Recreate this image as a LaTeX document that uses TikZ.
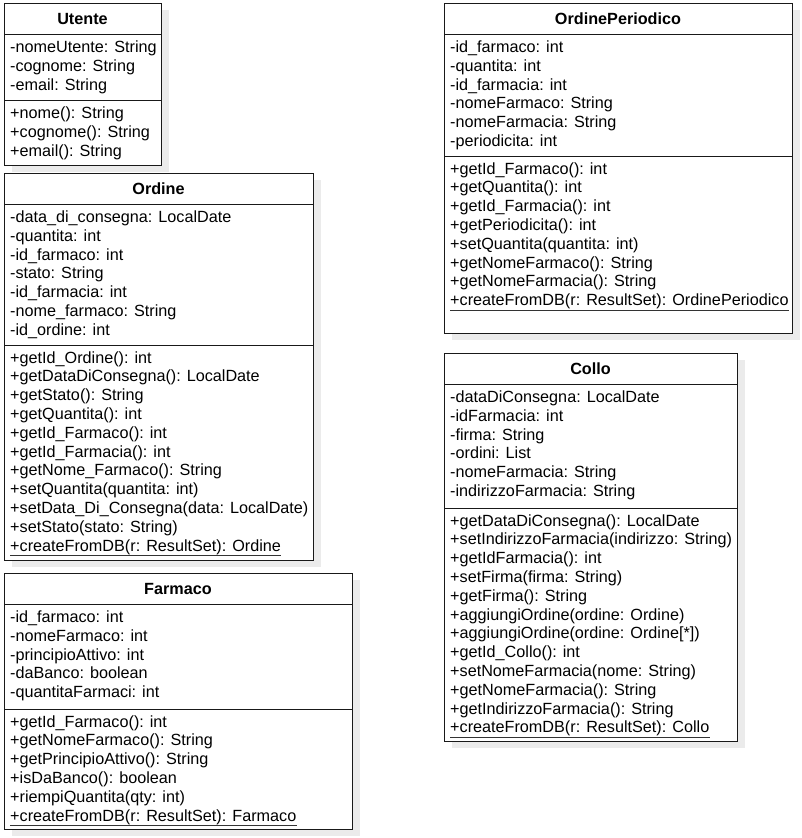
\documentclass[tikz,border=0pt]{standalone}
\usepackage{fontspec}
\setmainfont{Liberation Sans}
\usetikzlibrary{shadows}

\tikzset{
  classbox/.style={draw=black!90, line width=1pt, fill=white, anchor=north west, inner sep=0pt,
    drop shadow={shadow xshift=7pt, shadow yshift=-6pt, fill=black!8, opacity=1}},
  classname/.style={anchor=base, inner sep=0pt, font=\fontsize{16.2}{19}\selectfont\bfseries},
  member/.style={anchor=base west, inner sep=0pt, font=\fontsize{16.2}{19}\selectfont},
  divider/.style={draw=black!90, line width=1pt},
  staticline/.style={draw=black!80, line width=1.1pt},
}

\begin{document}
\begin{tikzpicture}[x=1pt, y=-1pt]
  \useasboundingbox (0,0) rectangle (801,838);

  % Utente
  \node[classbox, minimum width=157, minimum height=162] (utente) at (4,3) {};
  \node[classname] (utente-name) at (82.5,24) {Utente};
  \draw[divider] (4,34) -- (161,34);
  \draw[divider] (4,100) -- (161,100);
  \foreach \txt [count=\i] in {-nomeUtente: String, -cognome: String, -email: String}
    \node[member] (utente-a\i) at (10,{52.5+(\i-1)*18.8}) {\txt};
  \foreach \txt [count=\i] in {+nome(): String, +cognome(): String, +email(): String}
    \node[member] (utente-m\i) at (10,{118.5+(\i-1)*18.8}) {\txt};

  % Ordine
  \node[classbox, minimum width=309, minimum height=387] (ordine) at (4,173) {};
  \node[classname] (ordine-name) at (158.5,194) {Ordine};
  \draw[divider] (4,204) -- (313,204);
  \draw[divider] (4,345) -- (313,345);
  \foreach \txt [count=\i] in {-data\_di\_consegna: LocalDate, -quantita: int, -id\_farmaco: int,
      -stato: String, -id\_farmacia: int, -nome\_farmaco: String, -id\_ordine: int}
    \node[member] (ordine-a\i) at (10,{222.5+(\i-1)*18.8}) {\txt};
  \foreach \txt [count=\i] in {+getId\_Ordine(): int, +getDataDiConsegna(): LocalDate,
      +getStato(): String, +getQuantita(): int, +getId\_Farmaco(): int, +getId\_Farmacia(): int,
      +getNome\_Farmaco(): String, +setQuantita(quantita: int),
      +setData\_Di\_Consegna(data: LocalDate), +setStato(stato: String),
      +createFromDB(r: ResultSet): Ordine}
    \node[member] (ordine-m\i) at (10,{363+(\i-1)*18.8}) {\txt};
  \draw[staticline] ([yshift=-4.5pt]ordine-m11.base west) -- ([yshift=-4.5pt]ordine-m11.base east);

  % Farmaco
  \node[classbox, minimum width=348, minimum height=256] (farmaco) at (4,573) {};
  \node[classname] (farmaco-name) at (178,594) {Farmaco};
  \draw[divider] (4,604) -- (352,604);
  \draw[divider] (4,709) -- (352,709);
  \foreach \txt [count=\i] in {-id\_farmaco: int, -nomeFarmaco: int, -principioAttivo: int,
      -daBanco: boolean, -quantitaFarmaci: int}
    \node[member] (farmaco-a\i) at (10,{622.5+(\i-1)*18.8}) {\txt};
  \foreach \txt [count=\i] in {+getId\_Farmaco(): int, +getNomeFarmaco(): String,
      +getPrincipioAttivo(): String, +isDaBanco(): boolean, +riempiQuantita(qty: int),
      +createFromDB(r: ResultSet): Farmaco}
    \node[member] (farmaco-m\i) at (10,{727+(\i-1)*18.8}) {\txt};
  \draw[staticline] ([yshift=-4.5pt]farmaco-m6.base west) -- ([yshift=-4.5pt]farmaco-m6.base east);

  % OrdinePeriodico
  \node[classbox, minimum width=348, minimum height=330] (periodico) at (444,3) {};
  \node[classname] (periodico-name) at (618,24) {OrdinePeriodico};
  \draw[divider] (444,34) -- (792,34);
  \draw[divider] (444,156) -- (792,156);
  \foreach \txt [count=\i] in {-id\_farmaco: int, -quantita: int, -id\_farmacia: int,
      -nomeFarmaco: String, -nomeFarmacia: String, -periodicita: int}
    \node[member] (periodico-a\i) at (450,{52.5+(\i-1)*18.8}) {\txt};
  \foreach \txt [count=\i] in {+getId\_Farmaco(): int, +getQuantita(): int,
      +getId\_Farmacia(): int, +getPeriodicita(): int, +setQuantita(quantita: int),
      +getNomeFarmaco(): String, +getNomeFarmacia(): String,
      +createFromDB(r: ResultSet): OrdinePeriodico}
    \node[member] (periodico-m\i) at (450,{174+(\i-1)*18.8}) {\txt};
  \draw[staticline] ([yshift=-4.5pt]periodico-m8.base west) -- ([yshift=-4.5pt]periodico-m8.base east);

  % Collo
  \node[classbox, minimum width=293, minimum height=388] (collo) at (444,353) {};
  \node[classname] (collo-name) at (590.5,374) {Collo};
  \draw[divider] (444,384) -- (737,384);
  \draw[divider] (444,508) -- (737,508);
  \foreach \txt [count=\i] in {-dataDiConsegna: LocalDate, -idFarmacia: int, -firma: String,
      -ordini: List, -nomeFarmacia: String, -indirizzoFarmacia: String}
    \node[member] (collo-a\i) at (450,{402.5+(\i-1)*18.8}) {\txt};
  \foreach \txt [count=\i] in {+getDataDiConsegna(): LocalDate,
      +setIndirizzoFarmacia(indirizzo: String), +getIdFarmacia(): int,
      +setFirma(firma: String), +getFirma(): String, +aggiungiOrdine(ordine: Ordine),
      +aggiungiOrdine(ordine: Ordine[*]), +getId\_Collo(): int,
      +setNomeFarmacia(nome: String), +getNomeFarmacia(): String,
      +getIndirizzoFarmacia(): String, +createFromDB(r: ResultSet): Collo}
    \node[member] (collo-m\i) at (450,{526+(\i-1)*18.8}) {\txt};
  \draw[staticline] ([yshift=-4.5pt]collo-m12.base west) -- ([yshift=-4.5pt]collo-m12.base east);
\end{tikzpicture}
\end{document}
